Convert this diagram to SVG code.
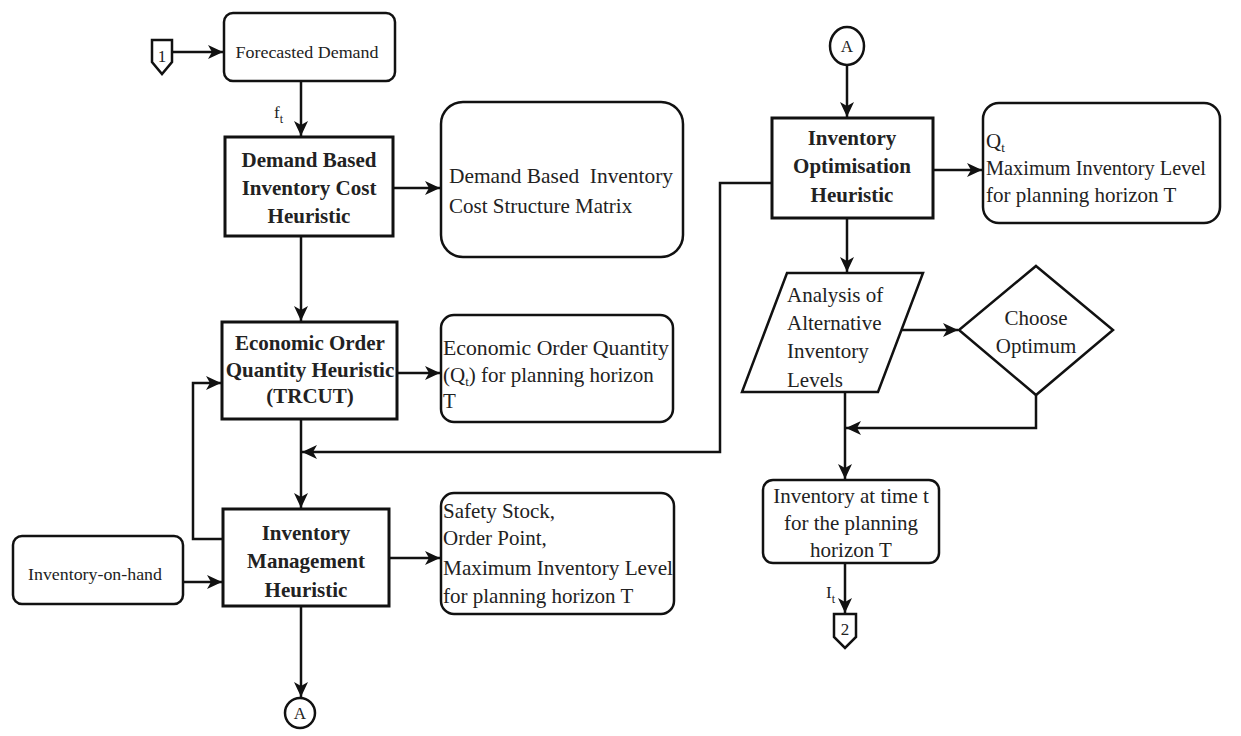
<svg xmlns="http://www.w3.org/2000/svg" width="1241" height="736" viewBox="0 0 1241 736">
<style>
text{font-family:"Liberation Serif","Times New Roman",serif;fill:#222}
.t{font-size:21px}
.b{font-size:21px;font-weight:bold;text-anchor:middle}
.s{font-size:17px}
.m{text-anchor:middle}
.box{fill:#fff;stroke:#111;stroke-width:3}
.rbox{fill:#fff;stroke:#111;stroke-width:2.5}
.c{fill:none;stroke:#111;stroke-width:2.5}
.ca{fill:none;stroke:#111;stroke-width:2.5;marker-end:url(#ah)}
</style>
<defs>
<marker id="ah" markerUnits="userSpaceOnUse" markerWidth="16" markerHeight="14" refX="15" refY="7" orient="auto" viewBox="0 0 16 14">
<path d="M0,0 L15,7 L0,14 L4,7 z" fill="#111"/>
</marker>
</defs>
<rect width="1241" height="736" fill="#fff"/>

<g id="connectors">
<path class="ca" d="M173,52 H223"/>
<path class="ca" d="M301,81 V136"/>
<path class="ca" d="M393,188 H440"/>
<path class="ca" d="M301,236 V321"/>
<path class="ca" d="M397,373 H440"/>
<path class="ca" d="M301,419 V508"/>
<path class="ca" d="M772,183 H720 V452 H302"/>
<path class="ca" d="M223,539 H193 V383 H221"/>
<path class="ca" d="M183,582 H222"/>
<path class="ca" d="M389,558 H440"/>
<path class="ca" d="M301,606 V697"/>
<path class="ca" d="M847,65 V117"/>
<path class="ca" d="M933,170 H982"/>
<path class="ca" d="M847,218 V272"/>
<path class="ca" d="M902,330 H958"/>
<path class="ca" d="M1036,395 V428 H846"/>
<path class="ca" d="M845,392 V479"/>
<path class="ca" d="M845,563 V613"/>
<text class="s" x="274" y="118">f<tspan font-size="12" dy="5">t</tspan></text>
<text class="s" x="826" y="598">I<tspan font-size="12" dy="5">t</tspan></text>
</g>

<g id="offpage1">
<path class="rbox" d="M152,40 H172 V62 L162,74 L152,62 Z"/>
<text class="s m" x="162" y="62" font-size="16">1</text>
</g>

<g id="forecasted-demand">
<rect class="rbox" x="224" y="13" width="171" height="68" rx="9"/>
<text class="s m" x="307" y="58" textLength="143" lengthAdjust="spacingAndGlyphs">Forecasted Demand</text>
</g>

<g id="demand-heuristic">
<rect class="box" x="225" y="137" width="168" height="99"/>
<text class="b" x="309" y="167">Demand Based</text>
<text class="b" x="309" y="195">Inventory Cost</text>
<text class="b" x="309" y="223">Heuristic</text>
</g>

<g id="cost-matrix">
<rect class="rbox" x="441" y="102" width="242" height="155" rx="22"/>
<text class="t" x="449" y="183" xml:space="preserve" textLength="224" lengthAdjust="spacingAndGlyphs">Demand Based  Inventory</text>
<text class="t" x="449" y="213">Cost Structure Matrix</text>
</g>

<g id="eoq-heuristic">
<rect class="box" x="222" y="322" width="175" height="97"/>
<text class="b" x="310" y="350">Economic Order</text>
<text class="b" x="310" y="377">Quantity Heuristic</text>
<text class="b" x="310" y="403">(TRCUT)</text>
</g>

<g id="eoq-output">
<rect class="rbox" x="441" y="315" width="232" height="107" rx="13"/>
<text class="t" x="443" y="355" textLength="226" lengthAdjust="spacingAndGlyphs">Economic Order Quantity</text>
<text class="t" x="443" y="382">(Q<tspan font-size="13" dy="4">t</tspan><tspan dy="-4">) for planning horizon</tspan></text>
<text class="t" x="443" y="408">T</text>
</g>

<g id="inventory-on-hand">
<rect class="rbox" x="13" y="536" width="170" height="68" rx="9"/>
<text class="s m" x="95" y="580" textLength="134" lengthAdjust="spacingAndGlyphs">Inventory-on-hand</text>
</g>

<g id="inventory-management">
<rect class="box" x="223" y="509" width="166" height="97"/>
<text class="b" x="306" y="540">Inventory</text>
<text class="b" x="306" y="568">Management</text>
<text class="b" x="306" y="597">Heuristic</text>
</g>

<g id="management-output">
<rect class="rbox" x="441" y="493" width="233" height="121" rx="13"/>
<text class="t" x="443" y="518">Safety Stock,</text>
<text class="t" x="443" y="545">Order Point,</text>
<text class="t" x="443" y="575" textLength="230" lengthAdjust="spacingAndGlyphs">Maximum Inventory Level</text>
<text class="t" x="443" y="603">for planning horizon T</text>
</g>

<g id="connector-a-bottom">
<ellipse class="rbox" cx="300" cy="713" rx="15" ry="15"/>
<text class="s m" x="300" y="719" font-size="15">A</text>
</g>

<g id="connector-a-top">
<ellipse class="rbox" cx="847" cy="46" rx="17" ry="19"/>
<text class="s m" x="847" y="52" font-size="15">A</text>
</g>

<g id="optimisation-heuristic">
<rect class="box" x="772" y="118" width="161" height="100"/>
<text class="b" x="852" y="145">Inventory</text>
<text class="b" x="852" y="173">Optimisation</text>
<text class="b" x="852" y="202">Heuristic</text>
</g>

<g id="optimisation-output">
<rect class="rbox" x="983" y="103" width="237" height="120" rx="16"/>
<text class="t" x="986" y="148">Q<tspan font-size="13" dy="4">t</tspan></text>
<text class="t" x="986" y="175" textLength="220" lengthAdjust="spacingAndGlyphs">Maximum Inventory Level</text>
<text class="t" x="986" y="202">for planning horizon T</text>
</g>

<g id="analysis">
<path class="rbox" d="M787,273 H923 L878,392 H742 Z"/>
<text class="t" x="787" y="302">Analysis of</text>
<text class="t" x="787" y="330">Alternative</text>
<text class="t" x="787" y="358">Inventory</text>
<text class="t" x="787" y="387">Levels</text>
</g>

<g id="choose-optimum">
<path class="rbox" d="M1036,266 L1113,330 L1036,395 L959,330 Z"/>
<text class="t m" x="1036" y="325">Choose</text>
<text class="t m" x="1036" y="353">Optimum</text>
</g>

<g id="inventory-at-time">
<rect class="rbox" x="763" y="480" width="176" height="83" rx="10"/>
<text class="t m" x="851" y="503">Inventory at time t</text>
<text class="t m" x="851" y="530">for the planning</text>
<text class="t m" x="851" y="557">horizon T</text>
</g>

<g id="offpage2">
<path class="rbox" d="M834,614 H856 V637 L845,648 L834,637 Z"/>
<text class="s m" x="845" y="635" font-size="16">2</text>
</g>
</svg>
